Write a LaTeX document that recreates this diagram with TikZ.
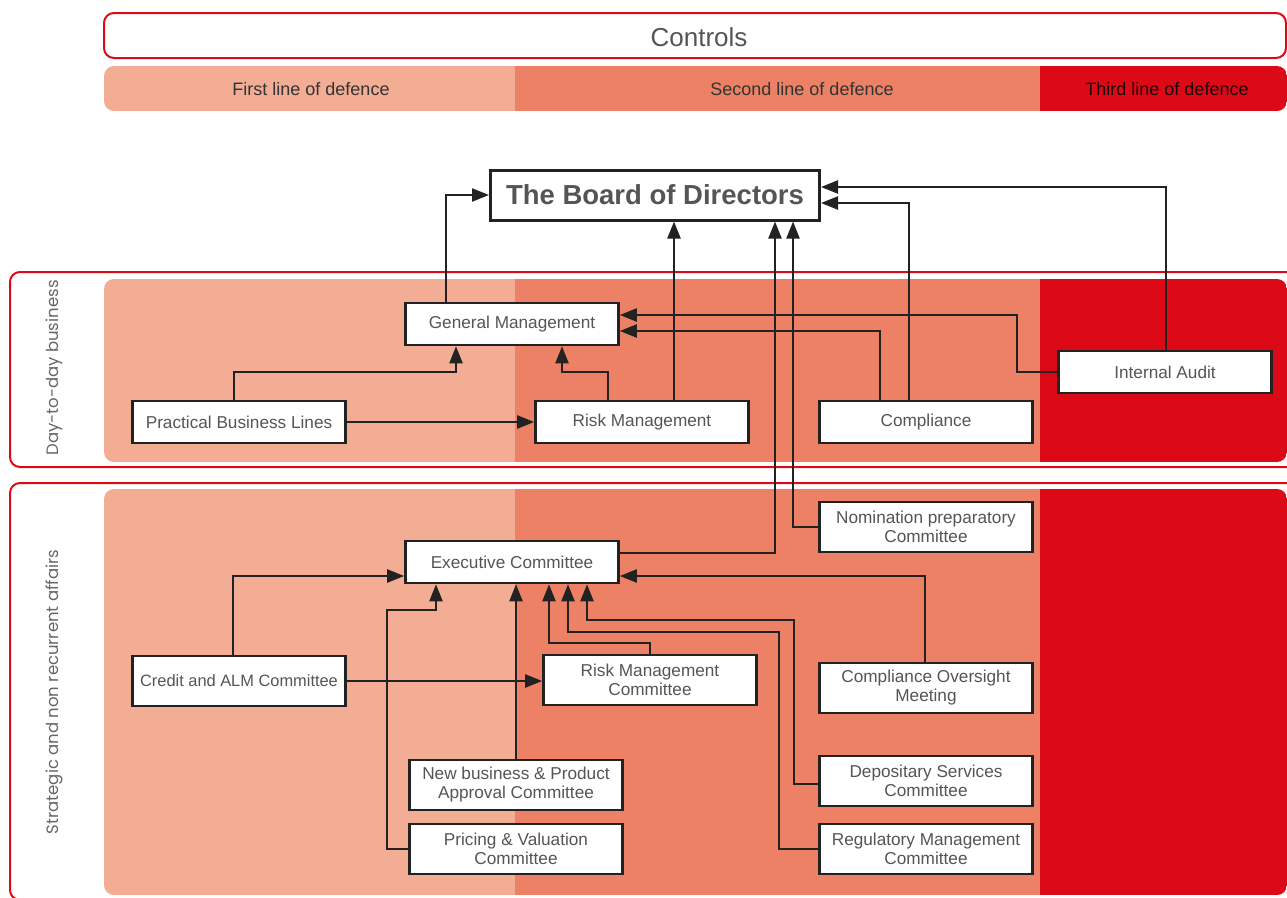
\documentclass[tikz,border=0pt]{standalone}
\usepackage{fontspec}
\setmainfont{Liberation Sans}
\newfontfamily\sidefont{Poppins}
\usetikzlibrary{arrows.meta}
\definecolor{firstln}{HTML}{F3AD94}
\definecolor{secondln}{HTML}{EC8165}
\definecolor{thirdln}{HTML}{DC0A17}
\definecolor{boxln}{HTML}{222222}
\definecolor{txtgrey}{HTML}{555555}

\begin{document}
\begin{tikzpicture}[x=1pt, y=-1pt,
  every node/.style={text=txtgrey},
  box/.style={draw=boxln, line width=2.6pt, fill=white, minimum width=213, minimum height=42, align=center, inner sep=0pt, font=\fontsize{17.2}{19}\selectfont},
  tall/.style={box, minimum height=50},
  arr/.style={draw=boxln, line width=2.3pt, -{Triangle[length=17pt,width=13pt]}},
  frame/.style={draw=thirdln, line width=2pt, rounded corners=10pt},
  defence/.style={font=\fontsize{18}{20}\selectfont, text=black!80},
  side/.style={rotate=90, font=\sidefont\fontsize{16.5}{18}\selectfont, text=black!60}]
  \useasboundingbox (0,0) rectangle (1287,897);
  \clip (0,0) rectangle (1287,897);

  \draw[frame, fill=white] (104,13) rectangle (1286,58);
  \draw[frame] (10,272) rectangle (1310,467);
  \draw[frame] (10,483) rectangle (1310,900);
  \foreach \ya/\yb in {66/111, 279/462, 489/895} {
    \begin{scope}
      \clip[rounded corners=10pt] (104,\ya) rectangle (1287,\yb);
      \fill[firstln] (104,\ya) rectangle (515,\yb);
      \fill[secondln] (515,\ya) rectangle (1040,\yb);
      \fill[thirdln] (1040,\ya) rectangle (1287,\yb);
    \end{scope}
  }

  \node (ctrl) [font=\fontsize{26}{28}\selectfont] at (699,37) {Controls};
  \node (first) [defence] at (311,89) {First line of defence};
  \node (second) [defence] at (802,89) {Second line of defence};
  \node (third) [defence, text=black!85!thirdln] at (1167,89) {Third line of defence};
  \node (daily) [side] at (54,368) {Day-to-day business};
  \node (strat) [side] at (54,692) {Strategic and non recurrent affairs};

  \node (board) [box, minimum width=329, minimum height=50, line width=3pt, font=\bfseries\fontsize{27.5}{30}\selectfont] at (655,195) {The Board of Directors};
  \node (gm) [box] at (512,324) {General Management};
  \node (pbl) [box] at (239,422) {Practical Business Lines};
  \node (rm) [box] at (642,422) {Risk Management};
  \node (comp) [box] at (926,422) {Compliance};
  \node (ia) [box] at (1165,372) {Internal Audit};

  \node (exco) [box] at (512,562) {Executive Committee};
  \node (nom) [tall] at (926,527) {Nomination preparatory\\Committee};
  \node (calm) [tall, font=\fontsize{16.4}{19}\selectfont] at (239,681) {Credit and ALM Committee};
  \node (rmc) [tall] at (650,680) {Risk Management\\Committee};
  \node (com) [tall] at (926,688) {Compliance Oversight\\Meeting};
  \node (nbpa) [tall] at (516,785) {New business \& Product\\Approval Committee};
  \node (pv) [tall] at (516,849) {Pricing \& Valuation\\Committee};
  \node (dsc) [tall] at (926,781) {Depositary Services\\Committee};
  \node (reg) [tall] at (926,849) {Regulatory Management\\Committee};

  \draw[arr] (gm.north -| 446,0) |- (board.west);
  \draw[arr] (pbl.north -| 234,0) |- (456,372) -- (456,0 |- gm.south);
  \draw[arr] (pbl.east) -- (rm.west);
  \draw[arr] (rm.north -| 608,0) |- (562,372) -- (562,0 |- gm.south);
  \draw[arr] (rm.north -| 674,0) -- (674,0 |- board.south);
  \draw[arr] (comp.north -| 880,0) |- (gm.east |- 0,331);
  \draw[arr] (comp.north -| 909,0) |- (board.east |- 0,203);
  \draw[arr] (ia.west) -| (1017,315) -- (gm.east |- 0,315);
  \draw[arr] (ia.north -| 1166,0) |- (board.east |- 0,187);

  \draw[arr] (exco.east |- 0,553) -| (775,0 |- board.south);
  \draw[arr] (nom.west) -| (793,0 |- board.south);
  \draw[arr] (calm.north -| 233,0) |- (exco.west |- 0,576);
  \draw[arr] (calm.east) -- (rmc.west |- calm.east);
  \draw[arr] (pv.west) -| (387,610) -| (436,0 |- exco.south);
  \draw[arr] (nbpa.north) -- (nbpa.north |- exco.south);
  \draw[arr] (rmc.north) |- (549,643) -- (549,0 |- exco.south);
  \draw[arr] (reg.west) -| (779,632) -| (568,0 |- exco.south);
  \draw[arr] (dsc.west |- 0,784) -| (794,620) -| (587,0 |- exco.south);
  \draw[arr] (com.north -| 925,0) |- (exco.east |- 0,576);
\end{tikzpicture}
\end{document}
